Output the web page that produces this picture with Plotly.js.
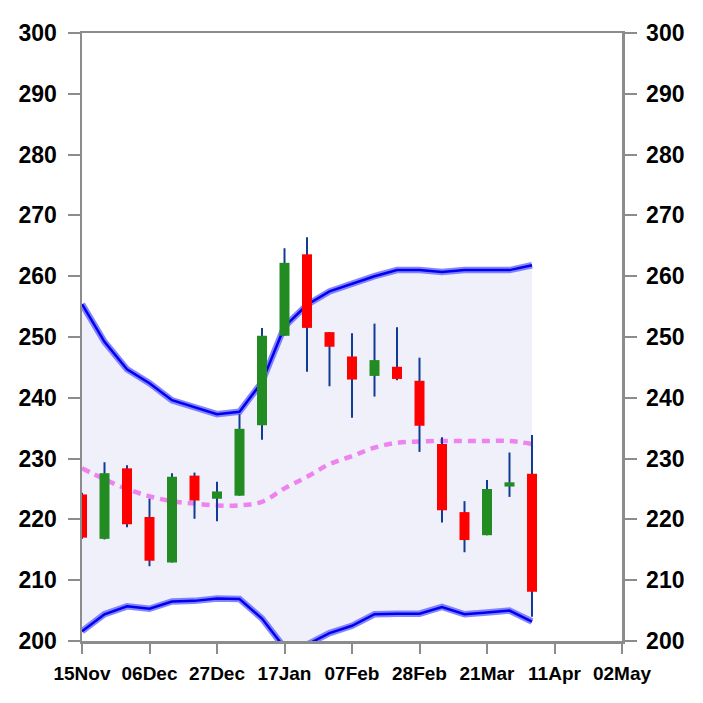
<!DOCTYPE html>
<html>
<head>
<meta charset="utf-8">
<script src="https://cdn.plot.ly/plotly-3.0.1.min.js"></script>
<style>html,body{margin:0;padding:0;background:#fff;}#chart{width:703px;height:703px;}</style>
</head>
<body>
<div id="chart"></div>
<script>
// Weekly dates
var dates = ['2004-11-15','2004-11-22','2004-11-29','2004-12-06','2004-12-13','2004-12-20','2004-12-27',
             '2005-01-03','2005-01-10','2005-01-17','2005-01-24','2005-01-31','2005-02-07','2005-02-14',
             '2005-02-21','2005-02-28','2005-03-07','2005-03-14','2005-03-21','2005-03-28','2005-04-04'];
var openP  = [224.1, 216.8, 228.4, 220.4, 212.9, 227.2, 223.4, 223.9, 235.5, 250.2, 263.6, 250.8, 246.8, 243.6, 245.1, 242.8, 232.4, 221.2, 217.4, 225.4, 227.5];
var closeP = [217.0, 227.6, 219.2, 213.2, 227.0, 223.1, 224.6, 234.9, 250.2, 262.2, 251.5, 248.4, 243.0, 246.2, 243.1, 235.4, 221.5, 216.6, 225.0, 226.1, 208.1];
var highP  = [224.4, 229.4, 228.9, 223.4, 227.6, 227.7, 226.2, 237.3, 251.5, 264.6, 266.4, 250.8, 250.6, 252.2, 251.6, 246.6, 233.5, 223.0, 226.5, 231.0, 233.9];
var lowP   = [216.8, 216.7, 218.7, 212.3, 212.9, 220.1, 219.7, 223.9, 233.1, 250.2, 244.3, 241.9, 236.7, 240.2, 242.9, 231.1, 219.5, 214.6, 217.4, 223.7, 204.0];
var upperBand = [255.4, 249.2, 244.7, 242.4, 239.6, 238.5, 237.3, 237.7, 242.6, 251.7, 255.3, 257.5, 258.8, 260.0, 261.0, 261.0, 260.7, 261.0, 261.0, 261.0, 261.8];
var lowerBand = [201.6, 204.4, 205.7, 205.3, 206.5, 206.6, 207.0, 206.9, 203.7, 198.9, 199.4, 201.3, 202.5, 204.4, 204.5, 204.5, 205.6, 204.4, 204.7, 205.0, 203.2];
var midBand   = [228.4, 226.6, 225.0, 223.8, 223.0, 222.6, 222.3, 222.3, 222.9, 225.1, 227.0, 229.1, 230.4, 231.8, 232.6, 232.8, 232.9, 232.9, 232.9, 232.9, 232.4];
var xTickStart = '2004-11-15';
var xRange = ['2004-11-15', '2005-05-02'];
var yRange = [200, 300];

// Build segment arrays for wicks and bodies
var wickX = [], wickY = [], upX = [], upY = [], dnX = [], dnY = [];
for (var i = 0; i < dates.length; i++) {
  wickX.push(dates[i], dates[i], null);
  wickY.push(lowP[i], highP[i], null);
  if (closeP[i] >= openP[i]) {
    upX.push(dates[i], dates[i], null);
    upY.push(openP[i], closeP[i], null);
  } else {
    dnX.push(dates[i], dates[i], null);
    dnY.push(openP[i], closeP[i], null);
  }
}

var traces = [
  {x: dates, y: lowerBand, mode: 'lines', line: {width: 0, color: 'rgba(0,0,0,0)'}, hoverinfo: 'skip'},
  {x: dates, y: upperBand, mode: 'lines', fill: 'tonexty', fillcolor: 'rgb(240,240,250)', line: {width: 0, color: 'rgba(0,0,0,0)'}, hoverinfo: 'skip'},
  {x: dates, y: lowerBand, mode: 'lines', line: {width: 6.5, color: 'rgba(110,110,255,0.85)'}},
  {x: dates, y: upperBand, mode: 'lines', line: {width: 6.5, color: 'rgba(110,110,255,0.85)'}},
  {x: dates, y: lowerBand, mode: 'lines', line: {width: 2.5, color: '#0000ee'}},
  {x: dates, y: upperBand, mode: 'lines', line: {width: 2.5, color: '#0000ee'}},
  {x: dates, y: midBand, mode: 'lines', line: {width: 4.5, color: '#ee82ee', dash: '8px,6px', shape: 'spline'}},
  {x: wickX, y: wickY, yaxis: 'y2', mode: 'lines', line: {width: 2, color: '#103c96'}},
  {x: upX, y: upY, yaxis: 'y2', mode: 'lines', line: {width: 10, color: '#228b22'}},
  {x: dnX, y: dnY, yaxis: 'y2', mode: 'lines', line: {width: 10, color: '#ff0000'}}
];

var axisFont = {family: 'Liberation Sans, Arial, sans-serif', size: 23, color: '#000', weight: 'bold'};
var layout = {
  width: 703, height: 703,
  margin: {l: 82, r: 81, t: 33, b: 62},
  paper_bgcolor: '#fff', plot_bgcolor: '#fff',
  showlegend: false,
  xaxis: {
    type: 'date', range: xRange, tick0: xTickStart, dtick: 21 * 86400000,
    tickformat: '%d%b', ticks: 'outside', ticklen: 10, tickwidth: 2, tickcolor: '#8c8c8c',
    showline: true, linecolor: '#8c8c8c', linewidth: 2.5, mirror: true,
    showgrid: false, zeroline: false, ticklabelstandoff: 4,
    tickfont: {family: 'Liberation Sans, Arial, sans-serif', size: 19, color: '#000', weight: 'bold'}
  },
  yaxis: {
    range: yRange, dtick: 10, ticks: 'outside', ticklen: 12, tickwidth: 2, tickcolor: '#8c8c8c',
    showline: true, linecolor: '#8c8c8c', linewidth: 2.5, ticklabelstandoff: 6,
    showgrid: false, zeroline: false, tickfont: axisFont
  },
  yaxis2: {
    range: yRange, dtick: 10, overlaying: 'y', side: 'right', ticks: 'outside', ticklen: 12, tickwidth: 2, tickcolor: '#8c8c8c',
    showline: true, linecolor: '#8c8c8c', linewidth: 2.5, ticklabelstandoff: 5,
    showgrid: false, zeroline: false, tickfont: axisFont
  }
};

Plotly.newPlot('chart', traces, layout, {displayModeBar: false, staticPlot: true});
</script>
</body>
</html>
